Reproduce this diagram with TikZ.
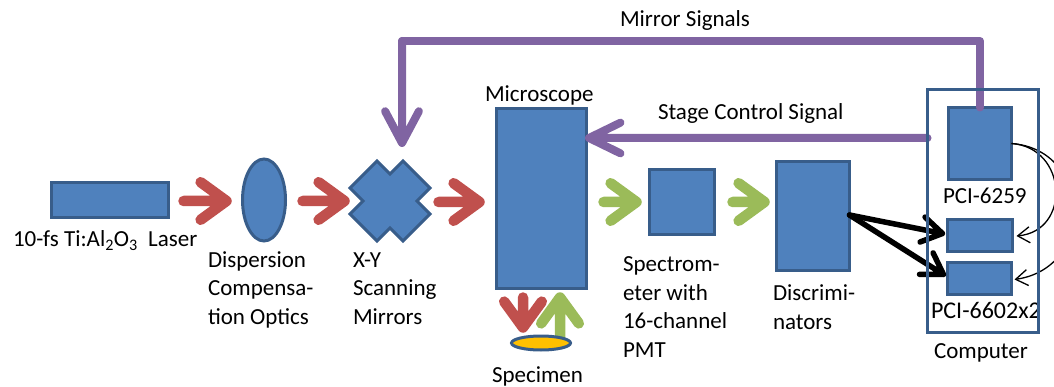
\documentclass[tikz,border=0pt]{standalone}
\usepackage{fontspec}
\setmainfont{Carlito}
\usetikzlibrary{arrows.meta,calc,shapes.geometric}
\definecolor{boxfill}{HTML}{4F81BD}
\definecolor{boxline}{HTML}{385D8A}
\definecolor{beamred}{HTML}{C0504D}
\definecolor{sigpurple}{HTML}{8064A2}
\definecolor{fluogreen}{HTML}{9BBB59}
\definecolor{specyellow}{HTML}{FFC000}

% thick connector with an open chevron head:
% #1 style, #2 start, #3 tip, #4 barb length, #5 barb angle
\newcommand\chevronarrow[5]{%
  \draw[#1] (#2) -- (#3) ($(#3)!#4!#5:(#2)$) -- (#3) -- ($(#3)!#4!-#5:(#2)$);}

\begin{document}
\begin{tikzpicture}[x=1pt,y=-1pt,
  every node/.style={font=\fontsize{23}{28.5}\selectfont, inner sep=0pt, outer sep=0pt},
  unit/.style={draw=boxline, fill=boxfill, line width=3pt},
  % multi-line labels are placed by the baseline of their last line
  lbl/.style={anchor=base west, align=left},
  beam/.style={line width=10.5pt, line cap=round, line join=round},
  redbeam/.style={beam, draw=beamred},
  greenbeam/.style={beam, draw=fluogreen},
  signal/.style={line width=8pt, draw=sigpurple, line cap=round, line join=round},
  count/.style={line width=5.5pt, draw=black, line cap=round, line join=round},
  clock/.style={line width=1.3pt, draw=black,
    -{Straight Barb[length=12pt,width=16pt]}},
]
\useasboundingbox (0,0) rectangle (1054,387);

% optical path
\node[unit, minimum width=117, minimum height=35] (laser) at (110,200) {};
\node[lbl] (laserlbl) at (13,247) {10-fs Ti:Al\textsubscript{2}O\textsubscript{3}\hspace{0.45em}Laser};

\node[unit, ellipse, minimum width=43, minimum height=82] (disp) at (264,200) {};
\node[lbl] (displbl) at (208,324) {Dispersion\\Compensa-\\tion Optics};

\node[minimum width=80, minimum height=80] (xy) at (390,201) {};
\draw[unit] ($(xy)+(0,-27)$) -- ++(13,-13) -- ++(27,27) -- ++(-13,13) -- ++(13,13)
  -- ++(-27,27) -- ++(-13,-13) -- ++(-13,13) -- ++(-27,-27) -- ++(13,-13)
  -- ++(-13,-13) -- ++(27,-27) -- cycle;
\node[lbl] (xylbl) at (353,324) {X-Y\\Scanning\\Mirrors};

\node[unit, minimum width=90, minimum height=180] (micro) at (541.5,198.5) {};
\node[anchor=base west] (microlbl) at (485,102) {Microscope};

\node[unit, minimum width=65, minimum height=65] (spectro) at (682,202) {};
\node[lbl] (spectrolbl) at (623,357) {Spectrom-\\eter with\\16-channel\\PMT};

\node[unit, minimum width=73, minimum height=109] (disc) at (813,216) {};
\node[lbl] (disclbl) at (773,329) {Discrimi-\\nators};

% computer with its boards
\path node[minimum width=111, minimum height=243] (comp) at (983,211) {};
\node[anchor=base west] (complbl) at (934,358) {Computer};
\node[unit, minimum width=63, minimum height=72] (pci1) at (980,143.5) {};
\node[anchor=base west] (pci1lbl) at (943,204) {PCI-6259};
\node[unit, minimum width=65, minimum height=32] (pci2) at (980,235.5) {};
\node[unit, minimum width=64, minimum height=32] (pci3) at (979.5,278.5) {};
\begin{scope}
  \clip ($(comp.south west)+(1.5,-1.5)$) rectangle ($(comp.north east)+(-1.5,1.5)$);
  \node[anchor=base west, font=\fontsize{24}{28.5}\selectfont] (pci3lbl) at (931,318) {PCI-6602x2};
\end{scope}

% laser beam
\coordinate (r1s) at ($(laser.east)+(15,1)$);
\coordinate (r1t) at ($(disp.west)+(-16,1)$);
\coordinate (r2s) at ($(disp.east)+(17,1)$);
\coordinate (r2t) at ($(xy.west)+(-5.5,0)$);
\coordinate (r3s) at ($(xy.east)+(8.5,1)$);
\coordinate (r3t) at ($(micro.west |- xy.east)+(-17,1)$);
\coordinate (r4s) at ($(micro.south)+(-18.5,9)$);
\coordinate (r4t) at ($(micro.south)+(-18.5,39)$);
\chevronarrow{redbeam}{r1s}{r1t}{32pt}{36}
\chevronarrow{redbeam}{r2s}{r2t}{32pt}{36}
\chevronarrow{redbeam}{r3s}{r3t}{32pt}{36}
\chevronarrow{redbeam}{r4s}{r4t}{32pt}{36}

% fluorescence
\coordinate (g1s) at ($(micro.south)+(18.5,52)$);
\coordinate (g1t) at ($(micro.south)+(18.5,9)$);
\coordinate (g2s) at ($(micro.east |- spectro.west)+(17,0)$);
\coordinate (g2t) at ($(spectro.west)+(-13,0)$);
\coordinate (g3s) at ($(spectro.east)+(18,0)$);
\coordinate (g3t) at ($(disc.west |- spectro.west)+(-12,0)$);
\chevronarrow{greenbeam}{g1s}{g1t}{32pt}{36}
\chevronarrow{greenbeam}{g2s}{g2t}{32pt}{36}
\chevronarrow{greenbeam}{g3s}{g3t}{32pt}{36}

\node[unit, ellipse, fill=specyellow, minimum width=59, minimum height=14] (sample) at (541,343) {};
\node[anchor=base west] (samplelbl) at (492,382) {Specimen};

% photon counts
\coordinate (cs) at ($(disc.east)+(0,-1)$);
\coordinate (c1t) at ($(pci2.west)+(-5,-2)$);
\coordinate (c2t) at ($(pci3.west)+(-4,-4)$);
\chevronarrow{count}{cs}{c1t}{24pt}{32}
\chevronarrow{count}{cs}{c2t}{24pt}{32}

% board-to-board clock lines
\draw[clock] (pci1.east) .. controls +(56,4) and +(55,-5) .. ($(pci2.east)+(4,0.5)$);
\draw[clock] (pci1.east) .. controls +(80,6) and +(82,-12) .. ($(pci3.east)+(3,1)$);

% control signals
\coordinate (mtip) at ($(xy.north)+(12,-18)$);
\coordinate (mcorner) at ($(mtip)+(0,-102)$);
\coordinate (mstart) at (pci1.north);
\draw[signal] (mstart) |- (mcorner);
\chevronarrow{signal}{mcorner}{mtip}{36pt}{28}
\node[anchor=base west] (mirrorlbl) at (620,27) {Mirror Signals};
\coordinate (ss) at ($(comp.west)+(0,-73)$);
\coordinate (st) at ($(micro.east)+(2.5,-60.5)$);
\chevronarrow{signal}{ss}{st}{35pt}{26}
\node[anchor=base west] (stagelbl) at (658,120) {Stage Control Signal};

\draw[draw=boxline, line width=3pt] (comp.south west) rectangle (comp.north east);
\end{tikzpicture}
\end{document}
